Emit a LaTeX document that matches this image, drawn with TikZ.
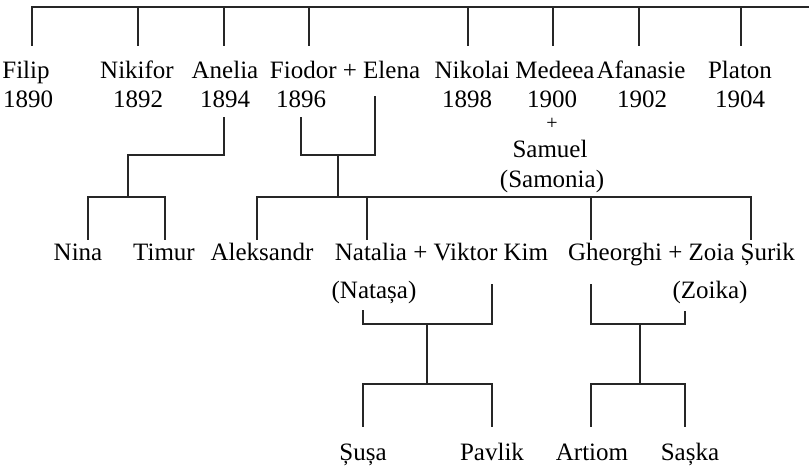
\documentclass[tikz,border=0pt]{standalone}
\usepackage{fontspec}
\setmainfont{Liberation Serif}
\begin{document}
\begin{tikzpicture}[x=1pt,y=-1pt,
  person/.style={anchor=base,inner sep=0pt,font=\fontsize{25}{29}\selectfont,text=black},
  plus/.style={anchor=base,inner sep=0pt,font=\fontsize{20}{22}\selectfont,text=black},
  link/.style={draw=black!85,line width=1.2pt,line cap=rect}]
\useasboundingbox (0,0) rectangle (809,472);
% generation 1
\node[person] (filip) at (26,78) {Filip};
\node[person] (filipY) at (28,107) {1890};
\node[person] (nikifor) at (137,78) {Nikifor};
\node[person] (nikiforY) at (138,107) {1892};
\node[person] (anelia) at (225,78) {Anelia};
\node[person] (aneliaY) at (225,107) {1894};
\node[person] (fiodor) at (345,78) {Fiodor + Elena};
\node[person] (fiodorY) at (301,107) {1896};
\node[person] (nikolai) at (472,78) {Nikolai};
\node[person] (nikolaiY) at (467,107) {1898};
\node[person] (medeea) at (555,78) {Medeea};
\node[person] (medeeaY) at (552,107) {1900};
\node[plus] (medeeaP) at (552,129) {+};
\node[person] (samuel) at (550,157) {Samuel};
\node[person] (samonia) at (552,187) {(Samonia)};
\node[person] (afanasie) at (641,78) {Afanasie};
\node[person] (afanasieY) at (642,107) {1902};
\node[person] (platon) at (740,78) {Platon};
\node[person] (platonY) at (740,107) {1904};
% generation 2
\node[person] (nina) at (78,260) {Nina};
\node[person] (timur) at (164,260) {Timur};
\node[person] (aleksandr) at (262,260) {Aleksandr};
\node[person] (natalia) at (441.5,260) {Natalia + Viktor Kim};
\node[person] (natasa) at (374,298) {(Natașa)};
\node[person] (gheorghi) at (681.5,260) {Gheorghi + Zoia Șurik};
\node[person] (zoika) at (710,298) {(Zoika)};
% generation 3
\node[person] (susa) at (363,460) {Șușa};
\node[person] (pavlik) at (492,460) {Pavlik};
\node[person] (artiom) at (592,460) {Artiom};
\node[person] (saska) at (690,460) {Sașka};
% top bar and drops
\coordinate (barL) at (32,7);
\coordinate (barR) at (809,7);
\draw[link] (barL) -- (barR);
\foreach \n/\x in {filip/32,nikifor/138,anelia/224,fiodor/309,nikolai/468,medeea/553,afanasie/639,platon/741}{
  \coordinate (\n Top) at (\x,45);
  \draw[link] (\n Top |- barL) -- (\n Top);
}
% Anelia's children
\coordinate (aneliaDown) at (224,118);
\coordinate (aneliaJ) at (128,155);
\coordinate (aneliaBar) at (128,197);
\coordinate (ninaTop) at (88,239);
\coordinate (timurTop) at (165,239);
\draw[link] (aneliaDown) |- (aneliaJ) -- (aneliaBar);
\draw[link] (ninaTop) |- (aneliaBar) -| (timurTop);
% Fiodor + Elena's children
\coordinate (fiodorDown) at (301,118);
\coordinate (elenaDown) at (375,97);
\coordinate (fiodorJ) at (338,155);
\coordinate (fiodorBar) at (338,197);
\coordinate (aleksandrTop) at (257,239);
\coordinate (nataliaTop) at (367,239);
\coordinate (gheorghiTop) at (591,239);
\coordinate (zoiaTop) at (751,239);
\draw[link] (fiodorDown) |- (fiodorJ) -| (elenaDown);
\draw[link] (fiodorJ) -- (fiodorBar);
\draw[link] (aleksandrTop) |- (fiodorBar) -| (zoiaTop);
\draw[link] (nataliaTop) -- (nataliaTop |- fiodorBar);
\draw[link] (gheorghiTop) -- (gheorghiTop |- fiodorBar);
% Natalia + Viktor's children
\coordinate (natasaDown) at (363,311);
\coordinate (viktorDown) at (492,285);
\coordinate (nataliaJ) at (427,324);
\coordinate (nataliaBar) at (427,384);
\coordinate (susaTop) at (363,426);
\coordinate (pavlikTop) at (492,426);
\draw[link] (natasaDown) |- (nataliaJ) -| (viktorDown);
\draw[link] (nataliaJ) -- (nataliaBar);
\draw[link] (susaTop) |- (nataliaBar) -| (pavlikTop);
% Gheorghi + Zoia's children
\coordinate (gheorghiDown) at (591,285);
\coordinate (zoikaDown) at (685,312);
\coordinate (gheorghiJ) at (640,324);
\coordinate (gheorghiBar) at (640,384);
\coordinate (artiomTop) at (591,426);
\coordinate (saskaTop) at (685,426);
\draw[link] (gheorghiDown) |- (gheorghiJ) -| (zoikaDown);
\draw[link] (gheorghiJ) -- (gheorghiBar);
\draw[link] (artiomTop) |- (gheorghiBar) -| (saskaTop);
\end{tikzpicture}
\end{document}
